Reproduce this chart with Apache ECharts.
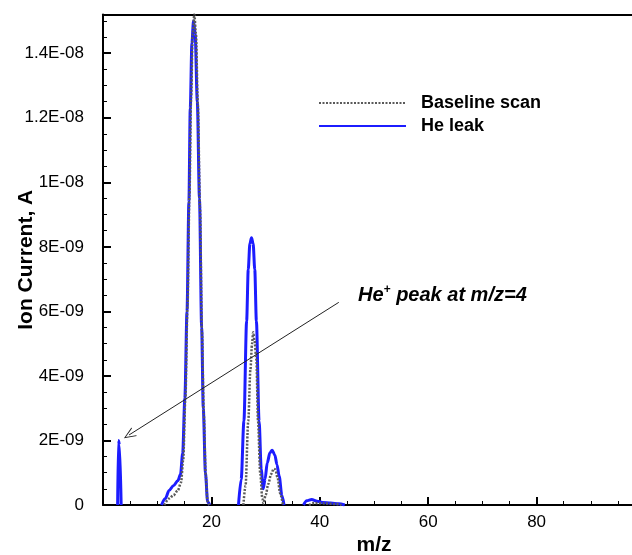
<!DOCTYPE html>
<html>
<head>
<meta charset="utf-8">
<script src="https://cdn.jsdelivr.net/npm/echarts@6/dist/echarts.min.js"></script>
<style>
html,body{margin:0;padding:0;background:#fff;}
#chart{width:632px;height:555px;}
</style>
</head>
<body>
<div id="chart"></div>
<script>
// m/z values and ion current (units of 1E-09 A); null breaks the trace
const heLeakMz = [2.7,2.85,3.05,3.35,null,
  10.8,11.5,12.2,13.0,13.8,14.3,14.7,15.1,15.5,15.85,16.1,16.4,16.7,17.0,17.4,17.8,18.2,18.5,18.9,19.3,19.7,null,
  25.0,25.5,26.0,26.5,26.8,27.1,27.4,27.7,28.0,28.3,28.8,29.2,29.55,29.9,30.3,30.8,31.2,31.7,32.1,32.5,33.0,33.4,null,
  37.0,37.6,38.5,39.5,40.5,42.0,43.5,44.6];
const heLeakCurrent = [0,2.0,1.85,0,null,
  0,0.2,0.45,0.6,0.75,0.95,1.6,3.3,6.0,9.4,12.3,14.3,15.0,14.6,12.5,9.5,5.5,3.0,1.0,0.1,0,null,
  0,0.8,2.6,5.7,7.3,8.1,8.28,8.1,7.3,5.7,2.6,1.1,0.5,0.8,1.3,1.62,1.7,1.55,1.25,0.9,0.3,0,null,
  0,0.13,0.17,0.12,0.08,0.06,0.04,0];
const baselineMz = [11.3,12.2,13.0,13.8,14.4,14.8,15.2,15.6,15.95,16.25,16.55,16.85,17.15,17.5,17.9,18.25,18.6,18.95,19.3,19.6,null,
  25.9,26.3,26.8,27.2,27.5,27.7,27.95,28.3,28.6,29.0,29.4,29.6,30.0,30.5,31.0,31.5,31.8,32.2,32.7,33.2,null,
  38.0,39.0,41.0,43.0,44.0];
const baselineCurrent = [0,0.2,0.3,0.45,0.7,1.4,3.3,6.2,9.6,12.6,14.6,15.2,14.6,12.4,9.2,5.4,2.8,0.9,0.1,0,null,
  0,0.6,2.6,4.2,5.0,5.35,5.1,4.5,2.6,1.0,0.2,0.05,0.3,0.65,0.95,1.12,1.1,0.85,0.35,0,null,
  0,0.06,0.05,0.03,0];
const yTickLabels = ['0','2E-09','4E-09','6E-09','8E-09','1E-08','1.2E-08','1.4E-08'];
const xTickLabels = ['', '20', '40', '60', '80', ''];
const seriesNames = ['Baseline scan','He leak'];
const annotationText = ['He', '+', ' peak at m/z=4'];
const arrowFrom = [43.5, 6.28];
const arrowTo = [4.8, 2.17];

function pairs(xs, ys){ return xs.map((x,i)=> x===null ? [null,null] : [x, ys[i]]); }

const FONT = "'Liberation Sans', Arial, sans-serif";
const chart = echarts.init(document.getElementById('chart'), null, {renderer:'canvas'});
chart.setOption({
  animation:false,
  backgroundColor:'#fff',
  textStyle:{fontFamily:FONT},
  grid:{left:103, top:14.5, width:542, height:490.5, containLabel:false, outerBoundsMode:'none'},
  legend:{
    data:seriesNames, orient:'vertical', left:318, top:94, padding:0, itemWidth:87, itemHeight:12, itemGap:5,
    itemStyle:{opacity:0},
    textStyle:{fontFamily:FONT, fontWeight:'bold', fontSize:18, color:'#000', padding:[0,0,0,10]}
  },
  xAxis:[{
    type:'value', min:0, max:100, interval:20,
    name:'m/z', nameLocation:'middle', nameGap:30, nameMoveOverlap:false,
    nameTextStyle:{fontFamily:FONT, fontWeight:'bold', fontSize:21, color:'#000'},
    axisLine:{show:true, onZero:false, lineStyle:{color:'#000', width:2}},
    axisTick:{show:true, inside:true, length:8, lineStyle:{color:'#000', width:2}},
    minorTick:{show:true, splitNumber:4, length:4, lineStyle:{color:'#000', width:1}},
    splitLine:{show:false},
    axisLabel:{color:'#000', fontSize:17, margin:9, fontFamily:FONT,
      formatter:(v)=> xTickLabels[Math.round(v/20)] || ''}
  },{
    type:'value', position:'top', min:0, max:100,
    axisLine:{show:true, onZero:false, lineStyle:{color:'#000', width:2}},
    axisTick:{show:false}, axisLabel:{show:false}, splitLine:{show:false}
  }],
  yAxis:{
    type:'value', min:0, max:15.2, interval:2,
    name:'Ion Current, A', nameLocation:'middle', nameGap:66, nameRotate:90, nameMoveOverlap:false,
    nameTextStyle:{fontFamily:FONT, fontWeight:'bold', fontSize:21, color:'#000'},
    axisLine:{show:true, lineStyle:{color:'#000', width:2}},
    axisTick:{show:true, inside:true, length:8, lineStyle:{color:'#000', width:2}},
    minorTick:{show:true, splitNumber:4, length:4, lineStyle:{color:'#000', width:1}},
    splitLine:{show:false},
    axisLabel:{color:'#000', fontSize:17, margin:19, fontFamily:FONT,
      formatter:(v)=> (Math.abs(v/2-Math.round(v/2))<1e-6 ? (yTickLabels[Math.round(v/2)]||'') : '')}
  },
  series:[{
    name:seriesNames[0], type:'line', data:pairs(baselineMz, baselineCurrent),
    showSymbol:false, symbol:'none', smooth:0.3, smoothMonotone:'x', z:3,
    lineStyle:{color:'#5a5a5a', width:2.5, type:[2,1.5]},
    itemStyle:{color:'#5a5a5a'}
  },{
    name:seriesNames[1], type:'line', data:pairs(heLeakMz, heLeakCurrent),
    showSymbol:false, symbol:'none', smooth:0.3, smoothMonotone:'x', z:2,
    lineStyle:{color:'#1c1cff', width:3},
    itemStyle:{color:'#1c1cff'},
    markLine:{
      silent:true, symbol:['none','path://M5,0 L10,12 L9,12 L5,2.2 L1,12 L0,12 Z'], symbolSize:[10,12],
      lineStyle:{color:'#222', width:1, type:'solid'},
      label:{show:false},
      data:[[{coord:arrowFrom},{coord:arrowTo}]]
    }
  }],
  graphic:[{
    type:'text', left:358, top:284,
    style:{
      text:'{a|'+annotationText[0]+'}{s|'+annotationText[1]+'}{a|'+annotationText[2]+'}',
      rich:{
        a:{fontFamily:FONT, fontWeight:'bold', fontStyle:'italic', fontSize:20, fill:'#000', lineHeight:24},
        s:{fontFamily:FONT, fontWeight:'bold', fontStyle:'italic', fontSize:12, fill:'#000', lineHeight:24, padding:[0,0,10,0]}
      }
    }
  }]
});
</script>
</body>
</html>
